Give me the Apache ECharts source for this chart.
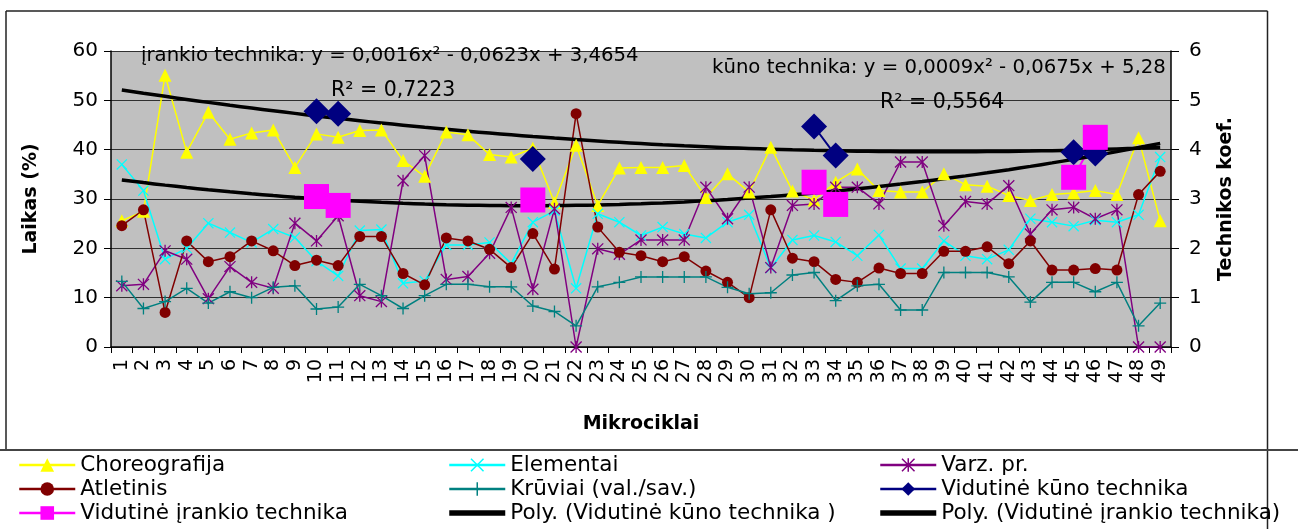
<!DOCTYPE html>
<html>
<head>
<meta charset="utf-8">
<script src="https://cdn.jsdelivr.net/npm/echarts@6/dist/echarts.min.js"></script>
<style>
html,body{margin:0;padding:0;background:#fff;}
#chart{width:1298px;height:529px;}
</style>
</head>
<body>
<div id="chart"></div>
<script>
// ---- data ----
const categories = ['1','2','3','4','5','6','7','8','9','10','11','12','13','14','15','16','17','18','19','20','21','22','23','24','25','26','27','28','29','30','31','32','33','34','35','36','37','38','39','40','41','42','43','44','45','46','47','48','49'];
const choreografija = [25.6,27.5,55.1,39.5,47.6,42.1,43.4,44.0,36.4,43.2,42.5,43.9,44.0,37.8,34.6,43.6,43.0,39.0,38.5,40.3,29.3,40.9,28.7,36.3,36.4,36.4,36.8,30.3,35.1,31.4,40.5,31.6,29.8,33.4,36.1,31.7,31.4,31.4,35.1,32.9,32.6,30.7,29.7,30.9,31.2,31.7,30.9,42.4,25.6];
const elementai = [37.0,31.7,17.8,20.0,25.1,23.2,21.2,23.9,22.2,17.4,14.4,23.6,23.8,12.9,13.4,20.7,20.7,21.2,16.9,25.3,27.6,11.9,27.0,25.3,22.6,24.3,22.9,22.1,25.3,26.8,16.0,21.7,22.6,21.3,18.5,22.7,15.9,15.9,21.5,18.5,17.8,19.7,26.0,25.3,24.5,25.7,25.3,26.8,38.5];
const varzPr = [12.4,12.7,19.5,17.8,9.8,16.3,13.1,11.9,25.1,21.5,26.6,10.4,9.2,33.7,38.8,13.7,14.3,19.0,28.3,11.7,28.0,0,19.9,18.8,21.7,21.7,21.7,32.4,26.0,32.4,16.1,28.7,29.0,32.4,32.4,29.0,37.5,37.5,24.6,29.5,29.0,32.7,22.9,27.8,28.3,26.0,27.8,0,0];
const atletinis = [24.6,27.8,7.0,21.5,17.3,18.3,21.5,19.5,16.5,17.6,16.5,22.4,22.4,14.9,12.6,22.1,21.5,19.8,16.1,23.0,15.8,47.3,24.3,19.2,18.5,17.3,18.3,15.4,13.1,10.0,27.8,18.0,17.3,13.7,13.1,16.0,14.9,14.9,19.4,19.4,20.3,16.9,21.5,15.6,15.6,15.9,15.6,30.9,35.6];
const kruviai = [13.3,7.8,9.2,11.9,8.9,11.2,10.0,12.1,12.4,7.7,8.1,12.7,10.4,7.8,10.4,12.7,12.7,12.2,12.2,8.3,7.2,4.3,12.2,13.1,14.2,14.2,14.2,14.2,12.1,10.8,11.0,14.6,15.1,9.4,12.4,12.7,7.5,7.5,15.1,15.1,15.1,14.2,9.1,13.1,13.1,11.2,13.1,4.3,8.9];
// average technique coefficients (right axis), null where no measurement
const kunoTechnika = [null,null,null,null,null,null,null,null,null,4.78,4.73,null,null,null,null,null,null,null,null,3.81,null,null,null,null,null,null,null,null,null,null,null,null,4.47,3.88,null,null,null,null,null,null,null,null,null,null,3.95,3.92,null,null,null];
const irankioTechnika = [null,null,null,null,null,null,null,null,null,3.05,2.87,null,null,null,null,null,null,null,null,2.98,null,null,null,null,null,null,null,null,null,null,null,null,3.34,2.89,null,null,null,null,null,null,null,null,null,null,3.44,4.25,null,null,null];
const leftTicks = {min:0, max:60, interval:10};
const rightTicks = {min:0, max:6, interval:1};

// ---- polynomial (order 2) trendline, least squares like Excel ----
function polyFit(vals){
  let S=[0,0,0,0,0], T=[0,0,0];
  vals.forEach((v,i)=>{ if(v==null) return; const x=i+1;
    for(let k=0;k<5;k++) S[k]+=Math.pow(x,k);
    for(let k=0;k<3;k++) T[k]+=v*Math.pow(x,k); });
  const A=[[S[0],S[1],S[2],T[0]],[S[1],S[2],S[3],T[1]],[S[2],S[3],S[4],T[2]]];
  for(let i=0;i<3;i++){ for(let j=i+1;j<3;j++){ const f=A[j][i]/A[i][i]; for(let k=i;k<4;k++) A[j][k]-=f*A[i][k]; } }
  const c=[0,0,0];
  for(let i=2;i>=0;i--){ let s=A[i][3]; for(let k=i+1;k<3;k++) s-=A[i][k]*c[k]; c[i]=s/A[i][i]; }
  return categories.map((_,i)=>{const x=i+1; return c[0]+c[1]*x+c[2]*x*x;});
}
const polyKuno = polyFit(kunoTechnika);
const polyIrankio = polyFit(irankioTechnika);

const FONT = 'DejaVu Sans';
const symX = 'path://M0.42,-0.42L10.42,9.58L9.58,10.42L-0.42,0.42ZM10.42,0.42L0.42,10.42L-0.42,9.58L9.58,-0.42Z';
const symStar = 'path://M0.42,-0.42L10.42,9.58L9.58,10.42L-0.42,0.42ZM10.42,0.42L0.42,10.42L-0.42,9.58L9.58,-0.42ZM4.4,-0.5L5.6,-0.5L5.6,10.5L4.4,10.5Z';
const symPlus = 'path://M4.4,-0.5L5.6,-0.5L5.6,10.5L4.4,10.5ZM-0.5,4.4L10.5,4.4L10.5,5.6L-0.5,5.6Z';
const polyIcon = 'path://M0,0L20,0L20,2L0,2Z';

function lineSeries(name, data, color, symbol, size, yIdx, lw){
  return {name, type:'line', data, yAxisIndex:yIdx||0, symbol, symbolSize:size,
    showAllSymbol:true, connectNulls:false, animation:false,
    lineStyle:{color, width:lw||1.5}, itemStyle:{color, borderColor:color, borderWidth:0, opacity:1},
    emphasis:{disabled:true}};
}

const series = [
  lineSeries('Choreografija', choreografija, '#FFFF00', 'triangle', 13),
  lineSeries('Elementai', elementai, '#00FFFF', symX, 11),
  lineSeries('Varz. pr.', varzPr, '#800080', symStar, 12),
  lineSeries('Atletinis', atletinis, '#800000', 'circle', 11),
  lineSeries('Krūviai (val./sav.)', kruviai, '#008080', symPlus, 12),
  lineSeries('Vidutinė kūno technika', kunoTechnika, '#000080', 'diamond', 26, 1, 2),
  lineSeries('Vidutinė įrankio technika', irankioTechnika, '#FF00FF', 'rect', 25, 1, 2),
  {name:'Poly. (Vidutinė kūno technika )', type:'line', yAxisIndex:1, data:polyKuno, symbol:'none', smooth:true,
    lineStyle:{color:'#000', width:3.5}, itemStyle:{color:'#000'}, animation:false, emphasis:{disabled:true}},
  {name:'Poly. (Vidutinė įrankio technika)', type:'line', yAxisIndex:1, data:polyIrankio, symbol:'none', smooth:true,
    lineStyle:{color:'#000', width:3.5}, itemStyle:{color:'#000'}, animation:false, emphasis:{disabled:true}}
];

function legend(left, names){
  return {orient:'vertical', left, top:454, height:80, padding:0, itemWidth:56, itemHeight:17, itemGap:2,
    data:names.map(n => n.startsWith('Poly.') ? {name:n, icon:polyIcon} : n),
    selectedMode:false, lineStyle:{width:2.5},
    textStyle:{fontFamily:FONT, fontSize:21.5, color:'#000', lineHeight:22}};
}

const chart = echarts.init(document.getElementById('chart'), null, {renderer:'canvas'});
chart.setOption({
  backgroundColor:'#fff',
  animation:false,
  grid:{left:111, right:127, top:51, bottom:182, show:true, backgroundColor:'#C0C0C0', borderWidth:0},
  legend:[
    legend(18, ['Choreografija','Atletinis','Vidutinė įrankio technika']),
    legend(448, ['Elementai','Krūviai (val./sav.)','Poly. (Vidutinė kūno technika )']),
    legend(879, ['Varz. pr.','Vidutinė kūno technika','Poly. (Vidutinė įrankio technika)'])
  ],
  xAxis:{type:'category', data:categories, boundaryGap:true,
    axisLine:{lineStyle:{color:'#000', width:1.5}},
    axisTick:{show:true, interval:0, length:6, lineStyle:{color:'#000'}},
    axisLabel:{interval:0, rotate:90, margin:12, fontFamily:FONT, fontSize:19, color:'#000'},
    name:'Mikrociklai', nameLocation:'middle', nameGap:68,
    nameTextStyle:{fontFamily:FONT, fontSize:19, fontWeight:'bold', color:'#000'}},
  yAxis:[
    {type:'value', min:leftTicks.min, max:leftTicks.max, interval:leftTicks.interval,
      axisLine:{show:true, lineStyle:{color:'#000', width:1.5}},
      axisTick:{show:true, length:7, lineStyle:{color:'#000'}},
      splitLine:{show:true, lineStyle:{color:'#303030', width:1}},
      axisLabel:{margin:13, fontFamily:FONT, fontSize:20, color:'#000'},
      name:'Laikas (%)', nameLocation:'middle', nameRotate:90, nameGap:70,
      nameTextStyle:{fontFamily:FONT, fontSize:19, fontWeight:'bold', color:'#000'}},
    {type:'value', position:'right', min:rightTicks.min, max:rightTicks.max, interval:rightTicks.interval,
      axisLine:{show:true, lineStyle:{color:'#000', width:1.5}},
      axisTick:{show:true, length:8, lineStyle:{color:'#000'}},
      splitLine:{show:false},
      axisLabel:{margin:18, fontFamily:FONT, fontSize:20, color:'#000'},
      name:'Technikos koef.', nameLocation:'middle', nameRotate:90, nameGap:46,
      nameTextStyle:{fontFamily:FONT, fontSize:19, fontWeight:'bold', color:'#000'}}
  ],
  series,
  graphic:[
    {type:'line', shape:{x1:6,y1:11,x2:1267.5,y2:11}, style:{stroke:'#222', lineWidth:1.5}, silent:true},
    {type:'line', shape:{x1:6,y1:11,x2:6,y2:450}, style:{stroke:'#222', lineWidth:1.5}, silent:true},
    {type:'line', shape:{x1:1267.5,y1:11,x2:1267.5,y2:529}, style:{stroke:'#222', lineWidth:1.5}, silent:true},
    {type:'line', shape:{x1:0,y1:450,x2:1298,y2:450}, style:{stroke:'#444', lineWidth:2}, silent:true},
    {type:'text', left:141, top:46, z:100, style:{text:'įrankio technika: y = 0,0016x² - 0,0623x + 3,4654', font:'19.7px "DejaVu Sans"', fill:'#000'}},
    {type:'text', left:331, top:80, z:100, style:{text:'R² = 0,7223', font:'20.5px "DejaVu Sans"', fill:'#000'}},
    {type:'text', left:712, top:58, z:100, style:{text:'kūno technika: y = 0,0009x² - 0,0675x + 5,28', font:'19.7px "DejaVu Sans"', fill:'#000'}},
    {type:'text', left:880, top:92, z:100, style:{text:'R² = 0,5564', font:'20.5px "DejaVu Sans"', fill:'#000'}}
  ]
});
</script>
</body>
</html>
